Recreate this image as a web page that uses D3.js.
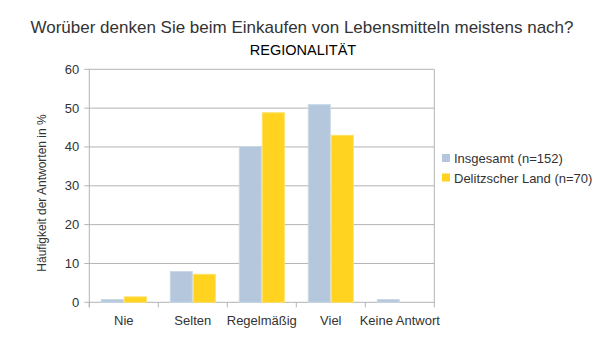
<!DOCTYPE html>
<html><head><meta charset="utf-8">
<script src="https://cdn.jsdelivr.net/npm/d3@7"></script>
<style>body{margin:0;background:#fff}svg{display:block;font-family:"Liberation Sans",Arial,sans-serif}</style>
</head><body><svg id="c" width="604" height="340"></svg>
<script>
const categories = ["Nie","Selten","Regelmäßig","Viel","Keine Antwort"];
const seriesNames = ["Insgesamt (n=152)","Delitzscher Land (n=70)"];
const insgesamt = [0.7, 7.9, 40.1, 50.9, 0.7];
const delitzsch = [1.4, 7.2, 48.8, 43.0, 0];
const yTicks = [0,10,20,30,40,50,60];
const colors = ["#b4c7dc","#ffd320"];
const strokes = ["#c9d7e7","#ffe066"];

const svg = d3.select("#c");
const L=89.3, R=434.3, T=69.3, B=302.3;
const x = d3.scaleBand().domain(categories).range([L,R]).paddingInner(0).paddingOuter(0);
const x1 = d3.scaleBand().domain([0,1]).range([0,x.bandwidth()]).paddingInner(0).paddingOuter(0.5);
const y = d3.scaleLinear().domain([0,60]).range([B,T]);

svg.append("text").attr("x",302).attr("y",33).attr("text-anchor","middle").attr("font-size",17).attr("fill","#333").text("Worüber denken Sie beim Einkaufen von Lebensmitteln meistens nach?");
svg.append("text").attr("x",303).attr("y",55).attr("text-anchor","middle").attr("font-size",14.5).attr("fill","#000").text("REGIONALITÄT");

// grid
svg.append("g").selectAll("line").data(yTicks).join("line")
 .attr("x1",L-5).attr("x2",R).attr("y1",d=>y(d)).attr("y2",d=>y(d)).attr("stroke","#b3b3b3").attr("stroke-width",1);
svg.append("line").attr("x1",L).attr("x2",L).attr("y1",T).attr("y2",B+5).attr("stroke","#b3b3b3");
svg.append("line").attr("x1",R).attr("x2",R).attr("y1",T).attr("y2",B+5).attr("stroke","#b3b3b3");
svg.append("g").selectAll("line").data(categories).join("line")
 .attr("x1",d=>x(d)).attr("x2",d=>x(d)).attr("y1",B).attr("y2",B+5).attr("stroke","#b3b3b3");

svg.append("g").selectAll("text").data(yTicks).join("text")
 .attr("x",L-10).attr("y",d=>y(d)+4.5).attr("text-anchor","end").attr("font-size",13).attr("fill","#333").text(d=>d);

const series=[insgesamt,delitzsch];
series.forEach((vals,si)=>{
  svg.append("g").selectAll("rect").data(categories).join("rect")
   .attr("x",d=>x(d)+x1(si)+0.5).attr("width",x1.bandwidth()-1)
   .attr("y",(d,i)=>y(vals[i])).attr("height",(d,i)=>B-y(vals[i]))
   .attr("fill",colors[si]).attr("stroke",strokes[si]).attr("stroke-width",1)
   .attr("display",(d,i)=>vals[i]>0?null:"none");
});

svg.append("g").selectAll("text").data(categories).join("text")
 .attr("x",d=>x(d)+x.bandwidth()/2).attr("y",325).attr("text-anchor","middle").attr("font-size",13).attr("fill","#333").text(d=>d);

svg.append("text").attr("transform","translate(46,193) rotate(-90)").attr("text-anchor","middle").attr("font-size",12).attr("fill","#333").text("Häufigkeit der Antworten in %");

const lg = svg.append("g");
seriesNames.forEach((n,i)=>{
  lg.append("rect").attr("x",442).attr("y",154+i*19.5).attr("width",8).attr("height",8).attr("fill",colors[i]);
  lg.append("text").attr("x",454).attr("y",163+i*19.5).attr("font-size",13).attr("fill","#333").text(n);
});
</script></body></html>
